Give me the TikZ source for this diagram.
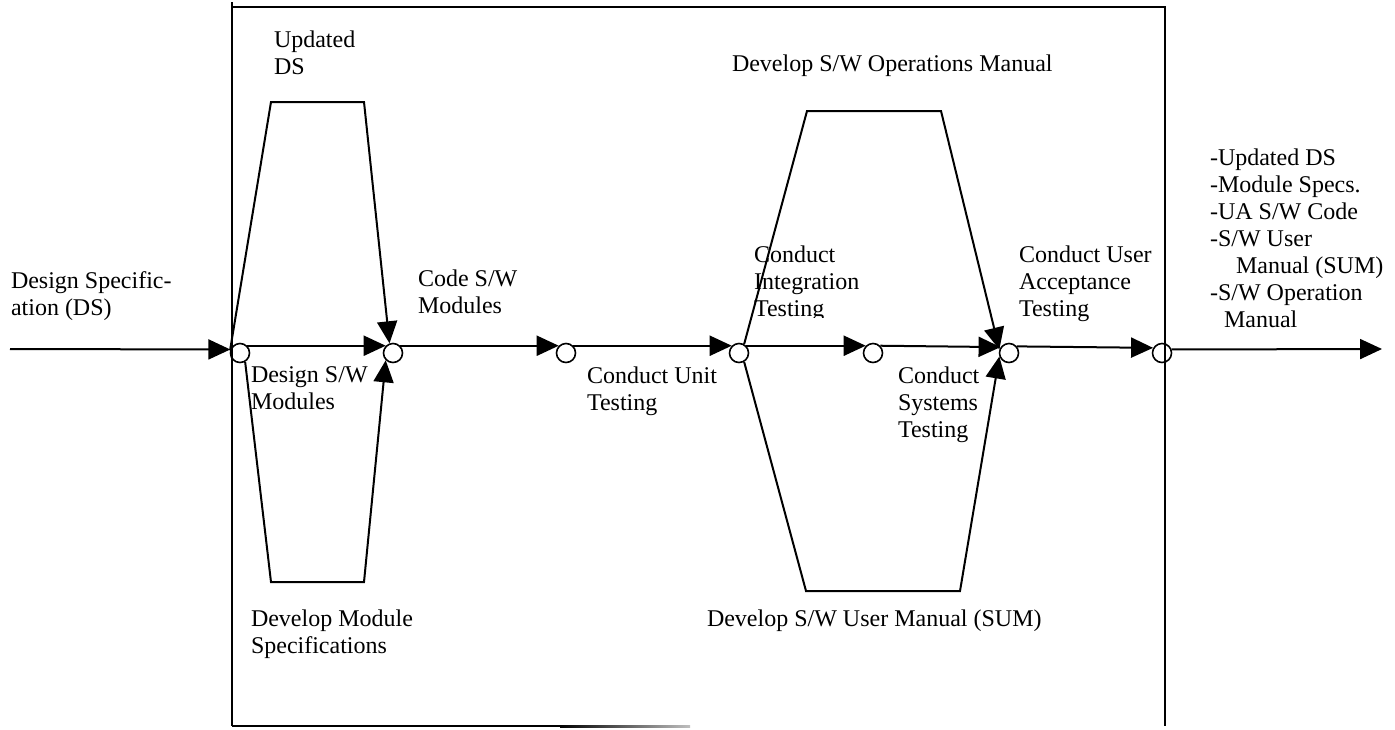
\documentclass[tikz,border=0pt]{standalone}
\usepackage{fontspec}
\setmainfont{Liberation Serif}
\usetikzlibrary{arrows.meta}

\begin{document}
\begin{tikzpicture}[x=0.5pt, y=-0.5pt, line width=1pt, font=\fontsize{12pt}{13.5pt}\selectfont]
    \tikzstyle{junc}=[draw, circle, inner sep=0pt, minimum size=9.5pt, line width=0.8pt]
    \tikzstyle{flow}=[-{Triangle[length=11pt, width=10pt]}]
    \tikzstyle{lbl}=[anchor=north west, inner sep=0pt, align=left]

    \useasboundingbox (0,0) rectangle (1395,729);

    % frame
    \draw (232,2) -- (232,726);
    \draw (232,7) -- (1165,7) -- (1165,726);
    \draw (232,726) -- (560,726);
    \shade[left color=black, right color=black!25] (560,725) rectangle (690,727);

    % junctions
    \foreach \n/\x in {c1/240, c2/393, c3/566, c4/739, c5/873, c6/1009, c7/1162} {
        \node[junc] (\n) at (\x, 353) {};
    }
    \coordinate (in) at (10,349);
    \coordinate (out) at (1382,349);

    % main flow
    \draw[flow] (in) -- (c1.160);
    \draw[flow] (c1.45) -- (c2.135);
    \draw[flow] (c2.45) -- (c3.135);
    \draw[flow] (c3.45) -- (c4.135);
    \draw[flow] (c4.45) -- (c5.135);
    \draw[flow] (c5.45) -- (c6.145);
    \draw[flow] (c6.40) -- (c7.150);
    \draw[flow] (c7.20) -- (out);

    % side paths
    \coordinate (ds-tl) at (271,102);  \coordinate (ds-tr) at (364,102);
    \coordinate (ms-bl) at (271,582);  \coordinate (ms-br) at (364,582);
    \coordinate (om-tl) at (807,111);  \coordinate (om-tr) at (941,111);
    \coordinate (um-bl) at (806,591);  \coordinate (um-br) at (960,591);

    \draw[flow] (c1.165) -- (ds-tl) -- (ds-tr) -- (c2.110);
    \draw[flow] (c1.300) -- (ms-bl) -- (ms-br) -- (c2.225);
    \draw[flow] (c4.60) -- (om-tl) -- (om-tr) -- (c6.160);
    \draw[flow] (c4.300) -- (um-bl) -- (um-br) -- (c6.200);

    % labels
    \node[lbl] (l-ds)   at (10,271)   {Design Specific-\\ation (DS)};
    \node[lbl] (l-upd)  at (273,30)   {Updated\\DS};
    \node[lbl] (l-dsm)  at (250,366)  {Design S/W\\Modules};
    \node[lbl] (l-dms)  at (250,609)  {Develop Module\\Specifications};
    \node[lbl] (l-code) at (417,269)  {Code S/W\\Modules};
    \node[lbl] (l-unit) at (586,366)  {Conduct Unit\\Testing};
    \begin{scope}
        \clip (700,200) rectangle (900,317);
        \node[lbl] (l-int) at (753,245) {Conduct\\Integration\\Testing};
    \end{scope}
    \node[lbl] (l-sys)  at (897,366)  {Conduct\\Systems\\Testing};
    \node[lbl] (l-ua)   at (1018,245) {Conduct User\\Acceptance\\Testing};
    \node[lbl] (l-om)   at (731,54)   {Develop S/W Operations Manual};
    \node[lbl] (l-um)   at (706,609)  {Develop S/W User Manual (SUM)};
    \node[lbl] (l-out)  at (1209,148) {-Updated DS\\-Module Specs.\\-UA S/W Code\\-S/W User\\\hspace*{13pt}Manual (SUM)\\-S/W Operation\\\hspace*{7pt}Manual};
\end{tikzpicture}
\end{document}
